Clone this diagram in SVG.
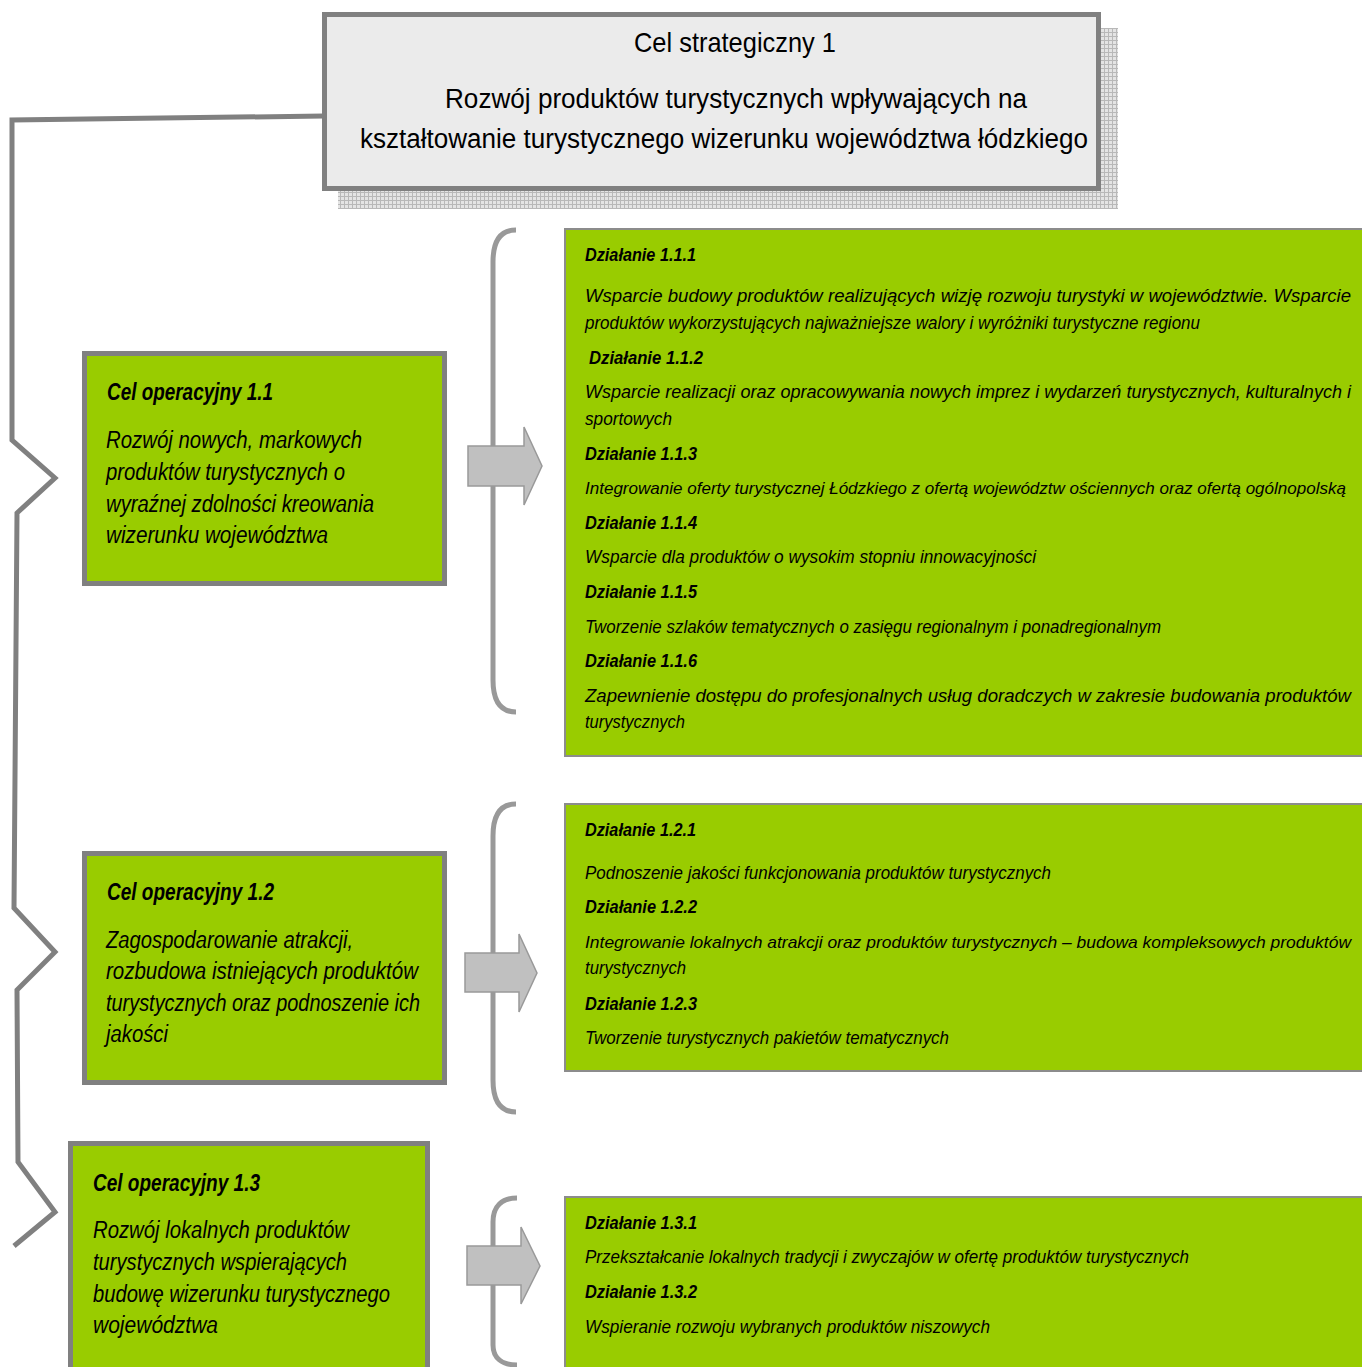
<svg xmlns="http://www.w3.org/2000/svg" width="1362" height="1367" viewBox="0 0 1362 1367">
<defs>
<pattern id="hatch" width="4" height="4" patternUnits="userSpaceOnUse">
<rect width="4" height="4" fill="#e4e4e4"/>
<path d="M0,0.5 H4 M0.5,0 V4" stroke="#b8b8b8" stroke-width="1"/>
</pattern>
</defs>
<style>
text{font-family:"Liberation Sans Narrow","Liberation Sans",Arial,sans-serif;fill:#000}
.t{font-size:28px}
.tb{font-size:27px}
.ct{font-size:24px;font-weight:bold;font-style:italic}
.cb{font-size:23.5px;font-style:italic}
.dt{font-size:19px;font-weight:bold;font-style:italic}
.db{font-size:18px;font-style:italic}
.dbs{font-size:16.5px;font-style:italic}
.cel{fill:#99cc00;stroke:#808080;stroke-width:5}
.dz{fill:#99cc00;stroke:#8c8c8c;stroke-width:2}
.brace{fill:none;stroke:#999999;stroke-width:5}
.arrow{fill:#c0c0c0;stroke:#999999;stroke-width:1.5}
.conn{fill:none;stroke:#808080;stroke-width:5;stroke-linejoin:miter}
</style>
<rect width="1362" height="1367" fill="#ffffff"/>

<g id="connectors">
<path class="conn" d="M324,116 L12,120 L12,440 L55,478 L17,513 L14,908 L55,952 L17,990 L18,1162 L55,1212 L14,1246"/>
<path class="brace" d="M516,230 C500,230 493,242 493,262 L493,680 C493,700 500,712 516,712"/>
<path class="brace" d="M516,804 C500,804 493,816 493,836 L493,1080 C493,1100 500,1112 516,1112"/>
<path class="brace" d="M517,1198 C502,1198 493,1206 493,1222 L493,1345 C493,1358 502,1365 517,1365"/>
<polygon class="arrow" points="468,446 524,446 524,427 542,466 524,505 524,486 468,486"/>
<polygon class="arrow" points="465,953 519,953 519,934 537,973 519,1012 519,992 465,992"/>
<polygon class="arrow" points="467,1246 521,1246 521,1227 540,1266 521,1304 521,1285 467,1285"/>
</g>

<g id="cel-strategiczny">
<rect x="338" y="28" width="780" height="181" fill="url(#hatch)"/>
<rect x="324.5" y="14.5" width="774" height="174" fill="#ebebeb" stroke="#808080" stroke-width="5"/>
<text class="t" x="634" y="52" textLength="202" lengthAdjust="spacingAndGlyphs">Cel strategiczny 1</text>
<text class="tb" x="445" y="108" textLength="582" lengthAdjust="spacingAndGlyphs">Rozwój produktów turystycznych wpływających na</text>
<text class="tb" x="360" y="148" textLength="728" lengthAdjust="spacingAndGlyphs">kształtowanie turystycznego wizerunku województwa łódzkiego</text>
</g>

<g id="cel-1-1">
<rect class="cel" x="84.5" y="353.5" width="360" height="230"/>
<text class="ct" x="107" y="400" textLength="166" lengthAdjust="spacingAndGlyphs">Cel operacyjny 1.1</text>
<text class="cb" x="106" y="448" textLength="256" lengthAdjust="spacingAndGlyphs">Rozwój nowych, markowych</text>
<text class="cb" x="106" y="480" textLength="239" lengthAdjust="spacingAndGlyphs">produktów turystycznych o</text>
<text class="cb" x="106" y="512" textLength="268" lengthAdjust="spacingAndGlyphs">wyraźnej zdolności kreowania</text>
<text class="cb" x="106" y="543" textLength="222" lengthAdjust="spacingAndGlyphs">wizerunku województwa</text>
</g>

<g id="cel-1-2">
<rect class="cel" x="84.5" y="853.5" width="360" height="229"/>
<text class="ct" x="107" y="900" textLength="167" lengthAdjust="spacingAndGlyphs">Cel operacyjny 1.2</text>
<text class="cb" x="106" y="948" textLength="247" lengthAdjust="spacingAndGlyphs">Zagospodarowanie atrakcji,</text>
<text class="cb" x="106" y="979" textLength="312" lengthAdjust="spacingAndGlyphs">rozbudowa istniejących produktów</text>
<text class="cb" x="106" y="1011" textLength="314" lengthAdjust="spacingAndGlyphs">turystycznych oraz podnoszenie ich</text>
<text class="cb" x="106" y="1042" textLength="62" lengthAdjust="spacingAndGlyphs">jakości</text>
</g>

<g id="cel-1-3">
<rect class="cel" x="70.5" y="1143.5" width="357" height="230"/>
<text class="ct" x="93" y="1191" textLength="167" lengthAdjust="spacingAndGlyphs">Cel operacyjny 1.3</text>
<text class="cb" x="93" y="1238" textLength="256" lengthAdjust="spacingAndGlyphs">Rozwój lokalnych produktów</text>
<text class="cb" x="93" y="1270" textLength="254" lengthAdjust="spacingAndGlyphs">turystycznych wspierających</text>
<text class="cb" x="93" y="1302" textLength="297" lengthAdjust="spacingAndGlyphs">budowę wizerunku turystycznego</text>
<text class="cb" x="93" y="1333" textLength="125" lengthAdjust="spacingAndGlyphs">województwa</text>
</g>

<g id="dzialania-1-1">
<rect class="dz" x="565" y="229" width="800" height="527"/>
<text class="dt" x="585" y="261" textLength="111" lengthAdjust="spacingAndGlyphs">Działanie 1.1.1</text>
<text class="db" x="585" y="302" textLength="766" lengthAdjust="spacingAndGlyphs">Wsparcie budowy produktów realizujących wizję rozwoju turystyki w województwie. Wsparcie</text>
<text class="db" x="585" y="329" textLength="615" lengthAdjust="spacingAndGlyphs">produktów wykorzystujących najważniejsze walory i wyróżniki turystyczne regionu</text>
<text class="dt" x="589" y="364" textLength="114" lengthAdjust="spacingAndGlyphs">Działanie 1.1.2</text>
<text class="db" x="585" y="398" textLength="766" lengthAdjust="spacingAndGlyphs">Wsparcie realizacji oraz opracowywania nowych imprez i wydarzeń turystycznych, kulturalnych i</text>
<text class="db" x="585" y="425" textLength="87" lengthAdjust="spacingAndGlyphs">sportowych</text>
<text class="dt" x="585" y="460" textLength="112" lengthAdjust="spacingAndGlyphs">Działanie 1.1.3</text>
<text class="dbs" x="585" y="494" textLength="761" lengthAdjust="spacingAndGlyphs">Integrowanie oferty turystycznej Łódzkiego z ofertą województw ościennych oraz ofertą ogólnopolską</text>
<text class="dt" x="585" y="529" textLength="112" lengthAdjust="spacingAndGlyphs">Działanie 1.1.4</text>
<text class="db" x="585" y="563" textLength="451" lengthAdjust="spacingAndGlyphs">Wsparcie dla produktów o wysokim stopniu innowacyjności</text>
<text class="dt" x="585" y="598" textLength="112" lengthAdjust="spacingAndGlyphs">Działanie 1.1.5</text>
<text class="db" x="585" y="633" textLength="576" lengthAdjust="spacingAndGlyphs">Tworzenie szlaków tematycznych o zasięgu regionalnym i ponadregionalnym</text>
<text class="dt" x="585" y="667" textLength="112" lengthAdjust="spacingAndGlyphs">Działanie 1.1.6</text>
<text class="db" x="585" y="702" textLength="766" lengthAdjust="spacingAndGlyphs">Zapewnienie dostępu do profesjonalnych usług doradczych w zakresie budowania produktów</text>
<text class="db" x="585" y="728" textLength="100" lengthAdjust="spacingAndGlyphs">turystycznych</text>
</g>

<g id="dzialania-1-2">
<rect class="dz" x="565" y="804" width="800" height="267"/>
<text class="dt" x="585" y="836" textLength="111" lengthAdjust="spacingAndGlyphs">Działanie 1.2.1</text>
<text class="db" x="585" y="879" textLength="466" lengthAdjust="spacingAndGlyphs">Podnoszenie jakości funkcjonowania produktów turystycznych</text>
<text class="dt" x="585" y="913" textLength="112" lengthAdjust="spacingAndGlyphs">Działanie 1.2.2</text>
<text class="dbs" x="585" y="948" textLength="766" lengthAdjust="spacingAndGlyphs">Integrowanie lokalnych atrakcji oraz produktów turystycznych – budowa kompleksowych produktów</text>
<text class="db" x="585" y="974" textLength="101" lengthAdjust="spacingAndGlyphs">turystycznych</text>
<text class="dt" x="585" y="1010" textLength="112" lengthAdjust="spacingAndGlyphs">Działanie 1.2.3</text>
<text class="db" x="585" y="1044" textLength="364" lengthAdjust="spacingAndGlyphs">Tworzenie turystycznych pakietów tematycznych</text>
</g>

<g id="dzialania-1-3">
<rect class="dz" x="565" y="1197" width="800" height="180"/>
<text class="dt" x="585" y="1229" textLength="112" lengthAdjust="spacingAndGlyphs">Działanie 1.3.1</text>
<text class="db" x="585" y="1263" textLength="604" lengthAdjust="spacingAndGlyphs">Przekształcanie lokalnych tradycji i zwyczajów w ofertę produktów turystycznych</text>
<text class="dt" x="585" y="1298" textLength="112" lengthAdjust="spacingAndGlyphs">Działanie 1.3.2</text>
<text class="db" x="585" y="1333" textLength="405" lengthAdjust="spacingAndGlyphs">Wspieranie rozwoju wybranych produktów niszowych</text>
</g>
</svg>
